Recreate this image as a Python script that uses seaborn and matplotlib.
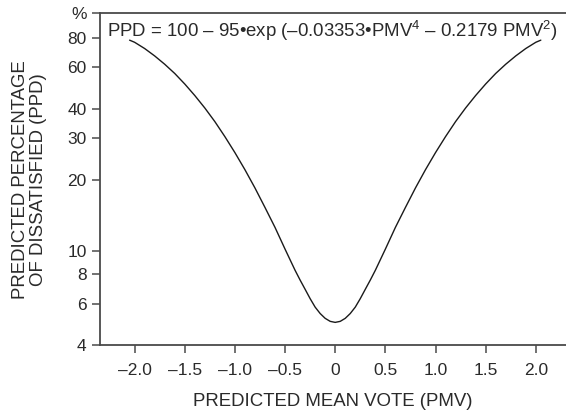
import numpy as np
import pandas as pd
import matplotlib
matplotlib.use("Agg")
import matplotlib.pyplot as plt
import seaborn as sns

# Values (PMV vs PPD, symmetric curve)
pmv = [-2.05, -2.0, -1.9, -1.8, -1.7, -1.6, -1.5, -1.4, -1.3, -1.2, -1.1, -1.0,
       -0.9, -0.8, -0.7, -0.6, -0.5, -0.45, -0.4, -0.35, -0.3, -0.25, -0.2,
       -0.15, -0.1, -0.05, 0.0,
       0.05, 0.1, 0.15, 0.2, 0.25, 0.3, 0.35, 0.4, 0.45, 0.5, 0.6, 0.7, 0.8,
       0.9, 1.0, 1.1, 1.2, 1.3, 1.4, 1.5, 1.6, 1.7, 1.8, 1.9, 2.0, 2.05]
ppd = [78.0, 76.4, 71.9, 66.9, 61.7, 56.4, 50.9, 45.5, 40.3, 35.3, 30.5, 26.1,
       22.1, 18.5, 15.3, 12.6, 10.2, 9.2, 8.3, 7.55, 6.9, 6.3, 5.8,
       5.45, 5.2, 5.05, 5.0,
       5.05, 5.2, 5.45, 5.8, 6.3, 6.9, 7.55, 8.3, 9.2, 10.2, 12.6, 15.3, 18.5,
       22.1, 26.1, 30.5, 35.3, 40.3, 45.5, 50.9, 56.4, 61.7, 66.9, 71.9, 76.4, 78.0]

x_ticks = [-2.0, -1.5, -1.0, -0.5, 0.0, 0.5, 1.0, 1.5, 2.0]
x_tick_labels = ["\u20132.0", "\u20131.5", "\u20131.0", "\u20130.5", "0", "0.5", "1.0", "1.5", "2.0"]
y_ticks = [4, 6, 8, 10, 20, 30, 40, 60, 80, 101.3]
y_tick_labels = ["4", "6", "8", "10", "20", "30", "40", "60", "80", "%"]

formula = ("PPD = 100 \u2013 95\u2022exp (\u20130.03353\u2022PMV$^{\\mathregular{4}}$"
           " \u2013 0.2179 PMV$^{\\mathregular{2}}$)")
x_label = "PREDICTED MEAN VOTE (PMV)"
y_label = "PREDICTED PERCENTAGE\nOF DISSATISFIED (PPD)"

sns.set_style("ticks")
plt.rcParams["font.family"] = ["Liberation Sans", "DejaVu Sans"]
plt.rcParams["mathtext.fontset"] = "custom"
plt.rcParams["mathtext.rm"] = "Liberation Sans"

txt = "#2a2a2a"
spine_c = "#4a4a4a"
W, H = 566, 413

df = pd.DataFrame({"PMV": pmv, "PPD": ppd})

fig = plt.figure(figsize=(W / 100, H / 100), dpi=100)
ax = fig.add_axes([99.7 / W, 1 - 345.3 / H, 1 - 99.7 / W, (345.3 - 13.3) / H])

sns.lineplot(data=df, x="PMV", y="PPD", ax=ax, color="#1a1a1a", linewidth=1.0, sort=False)

ax.set_yscale("log")
ax.set_xlim(-2.348, 2.301)
ax.set_ylim(4, 101.3)

ax.set_xticks(x_ticks)
ax.set_xticklabels(x_tick_labels)
ax.set_yticks(y_ticks)
ax.set_yticklabels(y_tick_labels)
ax.yaxis.set_minor_locator(matplotlib.ticker.NullLocator())

ax.tick_params(axis="both", direction="out", length=6, width=1.1, color=spine_c,
               labelsize=12.5, labelcolor=txt)
ax.tick_params(axis="x", pad=6.5)
ax.tick_params(axis="y", pad=3.5)

for s in ["left", "bottom", "top"]:
    ax.spines[s].set_color(spine_c)
    ax.spines[s].set_linewidth(1.3)
ax.spines["right"].set_visible(False)

ax.set_xlabel("")
ax.set_ylabel("")
fig.text(333 / W, 1 - 406 / H, x_label, fontsize=13.4, color=txt,
         ha="center", va="baseline")
fig.text(29.5 / W, 1 - 179.3 / H, y_label, fontsize=13.4, color=txt,
         ha="center", va="center", rotation=90, linespacing=1.15,
         multialignment="center")

fig.text(107.3 / W, 1 - 37.3 / H, formula, fontsize=13.4, color=txt,
         ha="left", va="baseline")

fig.savefig("out.png", dpi=100)
